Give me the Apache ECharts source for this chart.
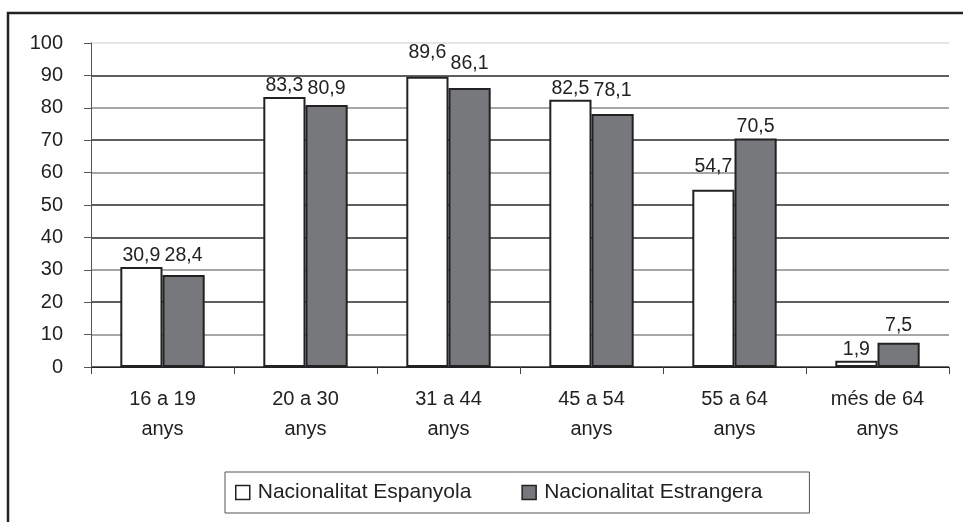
<!DOCTYPE html>
<html>
<head>
<meta charset="utf-8">
<script src="https://cdn.jsdelivr.net/npm/echarts@6/dist/echarts.min.js"></script>
<style>
  html, body { margin: 0; padding: 0; background: #fff; }
  #chart { width: 963px; height: 522px; }
</style>
</head>
<body>
<div id="chart"></div>
<script>
// Dades: taxa per grup d'edat i nacionalitat
const CATEGORIES = ['16 a 19\nanys', '20 a 30\nanys', '31 a 44\nanys', '45 a 54\nanys', '55 a 64\nanys', 'més de 64\nanys'];
const ESPANYOLA = [30.9, 83.3, 89.6, 82.5, 54.7, 1.9];
const ESTRANGERA = [28.4, 80.9, 86.1, 78.1, 70.5, 7.5];
const SERIES_NAMES = ['Nacionalitat Espanyola', 'Nacionalitat Estrangera'];

const FONT = "'Liberation Sans', Arial, sans-serif";
const INK = '#222';
// línies de graella (de 0 a 100), tons com a l'original
const GRID_COLORS = ['#333', '#8a8a8a', '#2a2a2a', '#8a8a8a', '#2a2a2a', '#2a2a2a',
  '#8a8a8a', '#2a2a2a', '#8a8a8a', '#2a2a2a', '#dcdcdc'];
// etiquetes que l'original desplaça cap amunt (px)
const LIFT_ESP = [0, 0, 13, 0, 12, 0];
const LIFT_EST = [8, 5, 13, 12, 1, 6];

const chart = echarts.init(document.getElementById('chart'), null, { renderer: 'canvas' });

const fmt = p => String(p.value).replace('.', ',');

const barSeries = (name, values, lifts, color) => ({
  name,
  type: 'bar',
  data: values.map((v, i) => ({ value: v, label: { offset: [0, -lifts[i]] } })),
  barGap: '0%',
  barCategoryGap: '41%',
  itemStyle: { color, borderColor: INK, borderWidth: 2 },
  label: {
    show: true, position: 'top', distance: 1,
    color: INK, fontFamily: FONT, fontSize: 19.5,
    formatter: fmt,
  },
  emphasis: { disabled: true },
});

chart.setOption({
  backgroundColor: '#fff',
  animation: false,
  textStyle: { fontFamily: FONT, color: INK },
  grid: { left: 91, right: 14, top: 43, bottom: 155, containLabel: false },
  graphic: [{
    type: 'rect',
    shape: { x: 8, y: 13, width: 1000, height: 600 },
    style: { fill: 'none', stroke: INK, lineWidth: 2.5 },
    silent: true,
  }],
  legend: {
    left: 225, top: 472,
    padding: [10, 47, 10, 10],
    borderColor: '#555', borderWidth: 1,
    itemWidth: 14, itemHeight: 14, itemGap: 50,
    icon: 'rect',
    itemStyle: { borderColor: INK, borderWidth: 1.5 },
    textStyle: { fontFamily: FONT, fontSize: 21, color: INK, padding: [0, 0, 0, 3] },
    data: SERIES_NAMES,
  },
  xAxis: {
    type: 'category',
    data: CATEGORIES,
    axisLine: { lineStyle: { color: INK, width: 1 } },
    axisTick: { show: true, length: 7, lineStyle: { color: '#444' } },
    axisLabel: { color: INK, fontFamily: FONT, fontSize: 20, lineHeight: 30, margin: 17 },
  },
  yAxis: {
    type: 'value',
    min: 0, max: 100, interval: 10,
    axisLine: { show: true, lineStyle: { color: '#555', width: 1 } },
    axisTick: { show: true, length: 7, lineStyle: { color: '#555' } },
    axisLabel: { color: INK, fontFamily: FONT, fontSize: 20, margin: 28 },
    splitLine: { show: true, lineStyle: { color: GRID_COLORS, width: 1.5 } },
  },
  series: [
    barSeries(SERIES_NAMES[0], ESPANYOLA, LIFT_ESP, '#ffffff'),
    barSeries(SERIES_NAMES[1], ESTRANGERA, LIFT_EST, '#77787b'),
  ],
});
</script>
</body>
</html>
